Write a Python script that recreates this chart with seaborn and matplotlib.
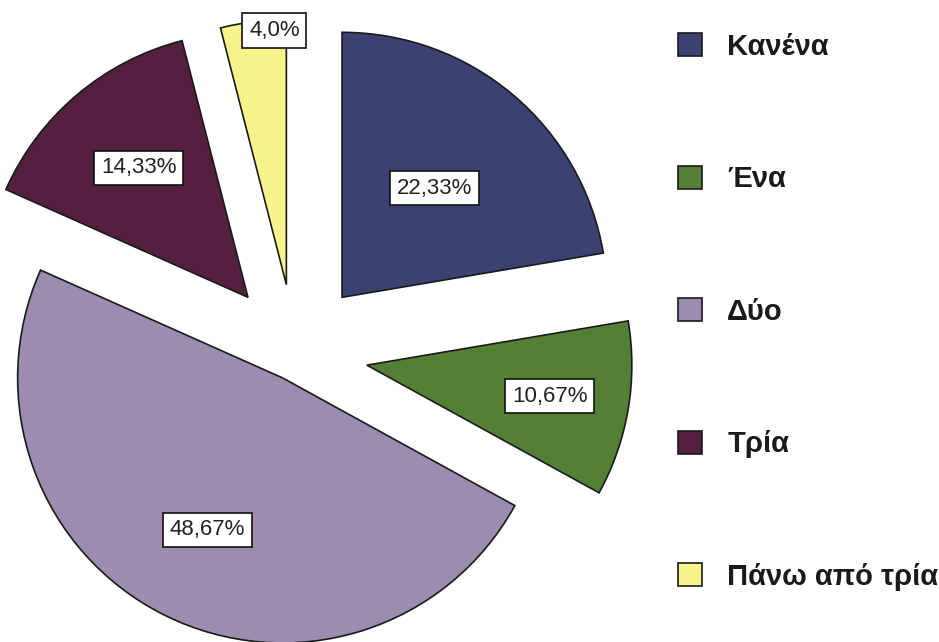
import matplotlib
matplotlib.use("Agg")
import matplotlib.pyplot as plt
import seaborn as sns
import numpy as np

# data
categories = ["Κανένα", "Ένα", "Δύο", "Τρία", "Πάνω από τρία"]
shares = [22.33, 10.67, 48.67, 14.33, 4.0]
share_labels = ["22,33%", "10,67%", "48,67%", "14,33%", "4,0%"]

colors = ["#3b4273", "#548036", "#9b8cb0", "#55203f", "#f7f48c"]
explode_frac = [0.275, 0.275, 0.105, 0.275, 0.26]
label_dist = [0.54, 0.70, 0.64, 0.64, 0.96]
label_turn = [0, 0, 0, 0, -4.5]  # degrees, nudges the small slice's box

sns.set_theme(style="white")
plt.rcParams["font.family"] = ["Liberation Sans", "DejaVu Sans"]

fig = plt.figure(figsize=(9.39, 6.42), dpi=100)
ax = fig.add_axes([0, 0, 1, 1])

R = 265
wedges, _ = ax.pie(shares, colors=colors, startangle=90, counterclock=False,
                   explode=[e * R for e in explode_frac], radius=R, center=(295, 289),
                   wedgeprops=dict(edgecolor="#1a1a1a", linewidth=1.2), frame=True)
ax.set_xlim(0, 939)
ax.set_ylim(0, 642)
ax.set_aspect("equal")
ax.axis("off")

# percentage boxes inside each slice
for w, txt, d, t in zip(wedges, share_labels, label_dist, label_turn):
    mid = np.deg2rad((w.theta1 + w.theta2) / 2 + t)
    cx, cy = w.center
    ax.text(cx + d * w.r * np.cos(mid), cy + d * w.r * np.sin(mid), txt,
            ha="center", va="center", fontsize=16, color="#222222",
            bbox=dict(boxstyle="square,pad=0.3", fc="white", ec="#111111", lw=1.2),
            zorder=5)

fig.legend(wedges, categories, loc="upper left",
           bbox_to_anchor=(678 / 939, 1 - 33 / 642), frameon=False,
           prop=dict(weight="bold", size=21), labelcolor="#1a1a1a",
           labelspacing=3.58, handlelength=0.83, handleheight=0.83,
           handletextpad=0.86, borderaxespad=0, borderpad=0)

fig.savefig("out.png", dpi=100, facecolor="white")
